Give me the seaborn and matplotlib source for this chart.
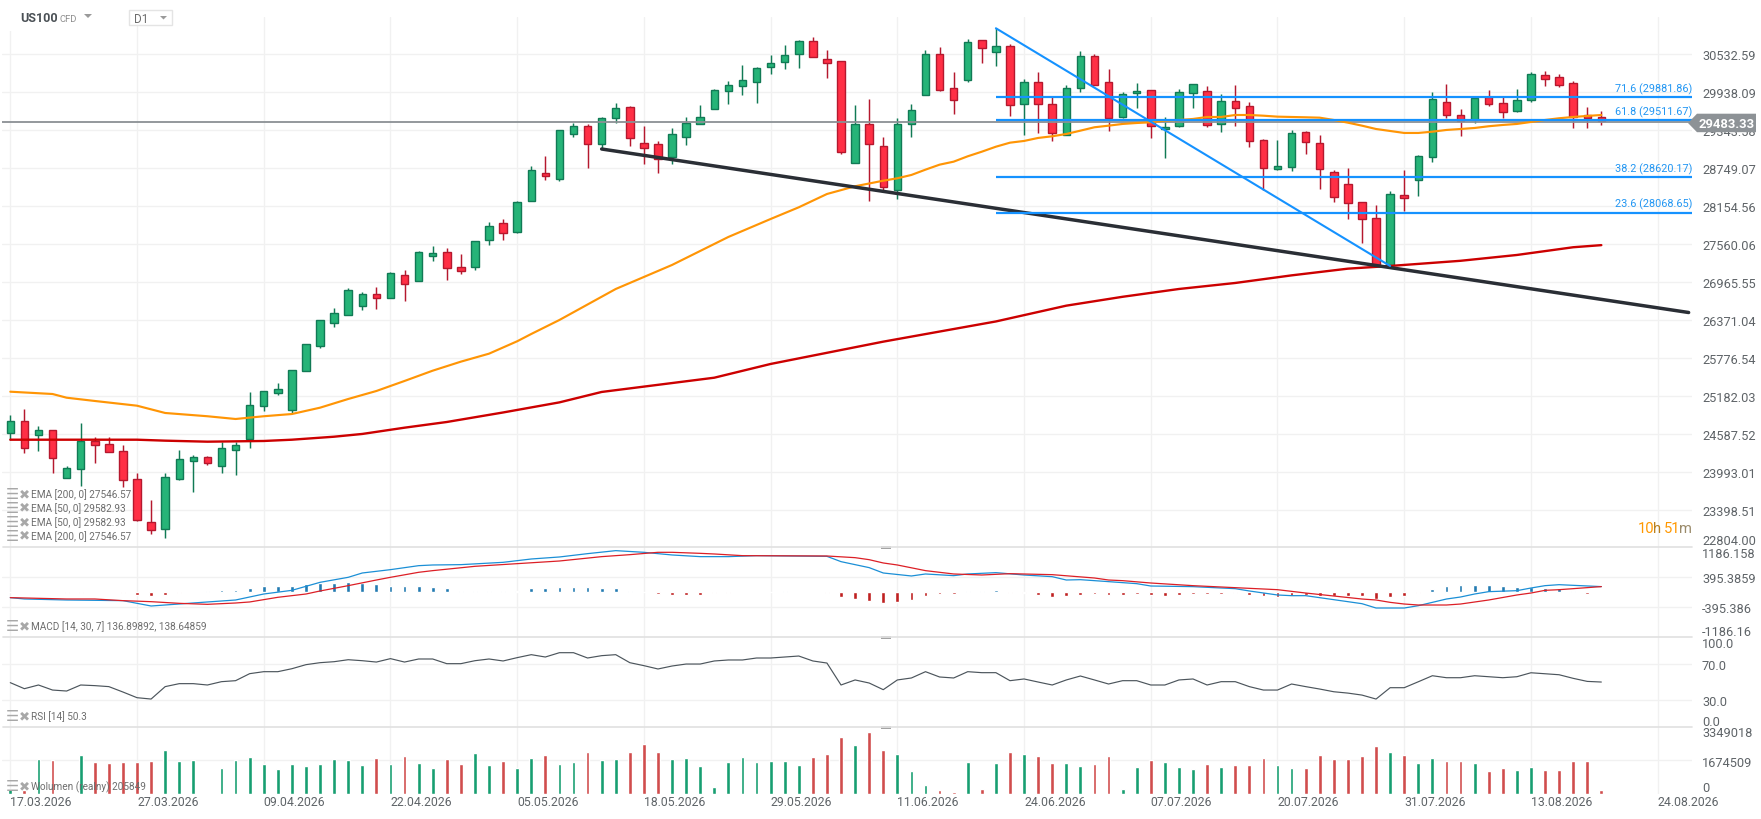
import pandas as pd
import seaborn as sns
import matplotlib.pyplot as plt
from matplotlib.lines import Line2D
from matplotlib.patches import Rectangle, Polygon

# daily candles, one entry per bar
opens = [24613, 24791, 24582, 24650, 23900, 24040, 24488, 24431, 24322, 23884,
         23211, 23111, 23884, 24175, 24228, 24087, 24338, 24510, 25023, 25229,
         24973, 25574, 25974, 26334, 26450, 26590, 26778, 26716, 27075, 26982,
         27382, 27435, 27201, 27201, 27623, 27889, 27748, 28233, 28671, 28577,
         29281, 29407, 29125, 29532, 29704, 29141, 29125, 28922, 29234, 29438,
         29673, 29954, 30032, 30095, 30330, 30408, 30533, 30736, 30455, 30423,
         28828, 29438, 29094, 28405, 29438, 29892, 30533, 30001, 30126, 30752,
         30564, 30658, 29751, 30095, 29751, 29266, 30001, 30502, 30095, 29547,
         29923, 29970, 29360, 29407, 29923, 29954, 29438, 29798, 29719, 29188,
         28734, 28765, 29313, 29141, 28687, 28499, 28218, 27972, 27232, 28327,
         28562, 28922, 29782, 29579, 29500, 29860, 29766, 29641, 29813, 30204,
         30178, 30079, 29583, 29552]
closes = [24791, 24369, 24650, 24212, 24056, 24488, 24416, 24306, 23868, 23252,
          23095, 23915, 24197, 24228, 24134, 24369, 24416, 25042, 25261, 25292,
          25589, 25996, 26371, 26481, 26841, 26778, 26716, 27107, 26935, 27435,
          27420, 27185, 27138, 27607, 27842, 27733, 28218, 28718, 28624, 29344,
          29407, 29125, 29532, 29688, 29219, 29062, 28890, 29281, 29453, 29547,
          29970, 30048, 30126, 30314, 30392, 30517, 30736, 30486, 30392, 29000,
          29438, 29125, 28452, 29438, 29657, 30533, 29970, 29813, 30721, 30627,
          30658, 29735, 30095, 29751, 29297, 30001, 30502, 30048, 29532, 29907,
          29954, 29407, 29391, 29938, 30064, 29422, 29798, 29688, 29172, 28749,
          28781, 29297, 29156, 28734, 28296, 28202, 27952, 27232, 28343, 28280,
          28937, 29829, 29579, 29485, 29845, 29751, 29626, 29813, 30220, 30142,
          30060, 29552, 29536, 29483]
highs = [24890, 24984, 24713, 24650, 24092, 24765, 24541, 24541, 24416, 23978,
         23555, 23978, 24338, 24259, 24244, 24463, 24463, 25245, 25261, 25386,
         25589, 25996, 26371, 26559, 26872, 26809, 26888, 27122, 27154, 27451,
         27529, 27498, 27404, 27607, 27905, 27952, 28233, 28781, 28937, 29344,
         29453, 29438, 29547, 29766, 29719, 29407, 29172, 29375, 29547, 29735,
         29985, 30111, 30361, 30330, 30517, 30674, 30752, 30799, 30596, 30423,
         29735, 29829, 29234, 29532, 29751, 30596, 30642, 30251, 30768, 30752,
         30940, 30689, 30142, 30251, 29860, 30048, 30580, 30533, 30298, 29938,
         30079, 29970, 29547, 29985, 30064, 30032, 29907, 30048, 29782, 29203,
         29188, 29344, 29328, 29266, 28718, 28749, 28218, 28171, 28390, 28718,
         28953, 29938, 30064, 29673, 29845, 29970, 29860, 29985, 30251, 30267,
         30225, 30115, 29708, 29640]
lows = [24503, 24300, 24331, 23987, 23900, 23784, 24144, 24306, 23768, 23236,
        23028, 22965, 23878, 23677, 24112, 23987, 23956, 24369, 24957, 25198,
        24921, 25574, 25943, 26271, 26450, 26537, 26553, 26716, 26678, 26982,
        27304, 27007, 27100, 27163, 27545, 27623, 27733, 28233, 28562, 28546,
        29234, 28749, 29062, 29453, 29094, 28812, 28671, 28812, 29109, 29438,
        29673, 29751, 29892, 29766, 30220, 30298, 30314, 30486, 30158, 28978,
        28828, 28233, 28405, 28264, 29234, 29892, 29954, 29604, 30095, 30392,
        30345, 29572, 29266, 29297, 29172, 29266, 29938, 30048, 29328, 29532,
        29688, 29219, 28906, 29391, 29688, 29391, 29313, 29407, 29078, 28415,
        28718, 28703, 28968, 28430, 28218, 27952, 27584, 27221, 27221, 28086,
        28311, 28843, 29532, 29250, 29453, 29719, 29532, 29626, 29782, 30032,
        30021, 29380, 29380, 29427]

# moving averages, read at the bars listed
ema50_bars = [0, 3, 4, 6, 9, 11, 14, 16, 18, 20, 22, 24, 26, 28, 30, 32, 34, 36, 37, 39, 43, 47, 51, 54, 56, 58, 60, 62,
              63, 64, 65, 66, 67, 68, 69, 70, 71, 72, 73, 74, 75, 76, 77, 78, 79, 80, 81, 82, 83, 84, 85, 86, 87, 88,
              89, 90, 91, 92, 93, 94, 95, 96, 97, 98, 99, 100, 101, 102, 103, 104, 105, 106, 107, 108, 109, 110, 111,
              112, 113]
ema50 = [25254, 25218, 25160, 25109, 25035, 24921, 24870, 24827, 24870, 24905, 25004, 25140, 25265, 25422, 25583,
         25724, 25849, 26043, 26157, 26376, 26861, 27237, 27675, 27956, 28139, 28347, 28468, 28555,
         28593, 28645, 28728, 28806, 28853, 28937, 29009, 29087, 29150, 29177, 29224, 29250, 29286, 29338, 29391,
         29416, 29443, 29458, 29469, 29494, 29505, 29521, 29552, 29552, 29583, 29583,
         29572, 29557, 29552, 29547, 29541, 29505, 29463, 29416, 29364, 29333, 29302, 29302, 29322, 29349, 29364,
         29380, 29407, 29427, 29443, 29474, 29505, 29532, 29552, 29568, 29583]
ema200_bars = [0, 9, 11, 14, 18, 20, 23, 25, 28, 31, 35, 39, 42, 50, 54, 62, 70, 75, 79, 83, 87, 91, 95, 98, 103, 107,
               111, 113]
ema200 = [24503, 24503, 24488, 24472, 24483, 24503, 24550, 24593, 24691, 24780, 24929, 25087, 25250, 25473, 25688,
          26037, 26353, 26600, 26739, 26861, 26955, 27074, 27179, 27221, 27302, 27393, 27514, 27547]

# fibonacci levels as drawn, and their labels
fib_levels = [29867, 29497, 28606, 28054]
fib_labels = ['71.6 (29881.86)', '61.8 (29511.67)', '38.2 (28620.17)', '23.6 (28068.65)']
last_price_level = 29469
support_bars = [42, 119.2]
support_prices = [29051, 26493]

# MACD lines
macd_bars = [0, 1, 4, 8, 10, 12, 14, 16, 18, 20, 22, 24, 25, 27, 29, 30, 32, 35, 37, 39, 41, 43, 45, 47, 49, 51, 53,
             58, 59, 61, 62, 64, 65, 67, 68, 70, 72, 74, 75, 76, 78, 80, 81, 84, 87, 88, 90, 91, 92, 95, 96, 97, 99,
             100, 101, 102, 103, 104, 105, 107, 108, 109, 110, 113]
macd_line = [-141, -176, -203, -220, -361, -308, -255, -203, -45, 52, 263, 395, 509, 597, 702, 720, 729, 790, 878,
             931, 1019, 1098, 1054, 984, 940, 940, 966, 948, 808, 650, 509, 430, 483, 439, 483, 518, 456, 412, 324,
             333, 281, 228, 166, 149, 96, 35, -71, -89, -89, -247, -300, -414, -414, -353, -265, -177, -124, -45,
             17, 43, 113, 175, 201, 150]
signal_bars = [0, 4, 6, 8, 10, 12, 14, 16, 17, 19, 21, 22, 24, 26, 27, 29, 30, 33, 36, 39, 42, 44, 46, 47, 49, 50, 52,
               58, 60, 61, 62, 63, 65, 67, 69, 71, 74, 77, 78, 79, 81, 84, 87, 89, 90, 92, 94, 96, 97, 98, 99, 100,
               102, 103, 105, 107, 108, 109, 110, 113]
signal_line = [-141, -176, -176, -220, -247, -291, -317, -282, -255, -132, -45, 35, 175, 324, 395, 527, 571, 685, 755,
               825, 940, 992, 1054, 1054, 1027, 1010, 966, 957, 913, 860, 773, 720, 571, 483, 456, 491, 465, 377,
               324, 307, 245, 175, 122, 87, 69, -19, -98, -177, -203, -265, -309, -335, -335, -309, -203, -71, -19,
               52, 69, 150]
macd_hist = [0, 0, 0, 0, -26, -26, 0, 0, -26, -70, -105, -70, -26, 0, 26, 70, 70, 123, 158, 176, 176, 211, 246, 246,
             264, 246, 211, 176, 158, 158, 141, 105, 44, 44, 44, 44, 44, 114, 114, 132, 132, 132, 105, 105, 44, 0,
             -53, -79, -79, -79, -26, -26, 0, 0, 0, 26, 0, 0, -26, -132, -185, -237, -290, -264, -211, -105, -53,
             -53, 26, 26, 53, -26, -26, -79, -132, -105, -79, -53, -79, -79, -53, -79, -105, -79, -53, -53, -53,
             -26, -79, -105, -132, -105, -79, -105, -105, -105, -105, -185, -132, -105, -26, 79, 158, 185, 185, 185,
             158, 132, 132, 105, 105, 44, -44, 0]

rsi = [49.6, 42.9, 47.0, 41.4, 40.3, 47.0, 46.3, 45.2, 39.2, 32.9, 31.4, 45.2, 48.5, 48.5, 47.0, 50.7, 51.8, 59.6,
       61.8, 61.8, 65.1, 69.6, 71.8, 72.9, 75.1, 74.0, 72.5, 76.3, 72.5, 75.9,
       75.9, 70.7, 70.7, 74.0, 75.9, 73.7, 77.4, 80.7, 78.1, 82.9, 82.9, 77.0, 79.6, 80.7, 71.8, 68.5, 64.8, 68.1,
       70.3, 70.3, 73.7, 74.8, 74.8, 77.0, 77.0, 78.1, 79.2, 73.7, 71.4, 47.0, 52.6, 49.2,
       41.8, 52.6, 54.8, 61.8, 55.9, 54.8, 61.8, 60.7, 60.7, 51.8, 53.7, 50.3, 47.0, 52.6, 57.0, 52.6, 48.1, 51.8,
       51.8, 47.0, 47.0, 52.6, 53.7, 47.0, 50.7, 50.7, 45.2, 41.4, 41.4, 48.1, 45.2,
       42.5, 39.5, 38.0, 35.8, 31.4, 44.0, 44.0, 50.6, 57.3, 55.1, 55.1, 57.3, 56.2, 55.1, 56.2, 60.6, 59.5, 58.4,
       54.4, 51.0, 50.3]

volume_k = [250, 200, 1750, 1700, 50, 1949, 1600, 1550, 1600, 1600, 1650, 2199, 1650, 1700, 0, 1300, 1700, 1849, 1500,
            1250, 1500, 1400, 1500, 1750, 1700, 1450, 1799, 1500, 1899, 1550, 1300, 1750, 1500, 2049, 1450, 1650,
            1300, 1799, 1949, 1500, 1600, 2099, 1700, 1750, 2099, 2499, 2099, 1750, 1799, 1400, 350, 1600, 1849,
            1600, 1650, 1650, 1450, 1849, 1999, 2849, 2449, 3082, 2199, 1999, 1150, 450, 200, 100, 1600, 250, 1550,
            2099, 1999, 1899, 1550, 1550, 1400, 1500, 1899, 250, 1350, 1700, 1600, 1350, 1250, 1500, 1350, 1450,
            1450, 1799, 1450, 1300, 1300, 1949, 1750, 1750, 1899, 2399, 2099, 1949, 1550, 1799, 1650, 1650, 1550,
            1150, 1300, 1200, 1350, 1200, 1200, 1650, 1650, 200]

price_ticks = [30532.59, 29938.09, 29343.58, 28749.07, 28154.56, 27560.06, 26965.55, 26371.04, 25776.54, 25182.03,
               24587.52, 23993.01, 23398.51]
date_labels = ['17.03.2026', '27.03.2026', '09.04.2026', '22.04.2026', '05.05.2026', '18.05.2026', '29.05.2026',
               '11.06.2026', '24.06.2026', '07.07.2026', '20.07.2026', '31.07.2026', '13.08.2026', '24.08.2026']
legend_emas = ['EMA [200, 0] 27546.57', 'EMA [50, 0] 29582.93', 'EMA [50, 0] 29582.93', 'EMA [200, 0] 27546.57']

W, H = 1761, 820
LEFT, RIGHT = 2, 1692
BAR_STEP = 14.08
GRID_COLOR = '#f1f1f1'
TEXT_COLOR = '#5f6468'
GREEN, GREEN_EDGE = '#26b478', '#117a55'
RED, RED_EDGE = '#ff2f45', '#b5182e'
BLUE = '#1592ff'


def fx(px):
    return px / W


def fy(py):
    return 1 - py / H


def add_panel(fig, top, bottom):
    ax = fig.add_axes([fx(LEFT), fy(bottom), (RIGHT - LEFT) / W, (bottom - top) / H])
    ax.patch.set_alpha(0)
    sns.despine(ax=ax, left=True, bottom=True, right=True, top=True)
    ax.yaxis.tick_right()
    ax.tick_params(axis='both', length=0, labelsize=9.2, labelcolor=TEXT_COLOR, pad=7.2)
    ax.tick_params(axis='x', labelbottom=False)
    ax.grid(True, color=GRID_COLOR, linewidth=0.95)
    ax.set_axisbelow(True)
    return ax


def finish_panel(ax, xlim, ylim, yticks, ylabels=None):
    ax.set_xlim(xlim)
    ax.set_ylim(ylim)
    ax.set_xticks(range(0, 118, 9))
    ax.set_yticks(yticks)
    if ylabels is not None:
        ax.set_yticklabels(ylabels)
    ax.set_xlabel('')
    ax.set_ylabel('')


def draw_candles(ax):
    for i in range(len(opens)):
        up = closes[i] >= opens[i]
        fill, edge = (GREEN, GREEN_EDGE) if up else (RED, RED_EDGE)
        ax.vlines(i, lows[i], highs[i], color=edge, linewidth=1.05, zorder=3)
        bottom = min(opens[i], closes[i])
        ax.bar(i, abs(closes[i] - opens[i]), bottom=bottom, width=0.53, color=fill, edgecolor=edge,
               linewidth=1.0, zorder=4)


def side_label(fig, py, text):
    fig.text(fx(1702), fy(py), text, fontsize=9.2, color=TEXT_COLOR, ha='left', va='center')


def legend_row(fig, py, text):
    fig.text(fx(5.5), fy(py), '☰', fontsize=10.5, color='#a8a8a8', ha='left', va='center', family=['DejaVu Sans'])
    fig.text(fx(18.5), fy(py), '✖', fontsize=9.5, color='#a8a8a8', ha='left', va='center', family=['DejaVu Sans'])
    fig.text(fx(31), fy(py), text, fontsize=7.2, color='#6d6d6d', ha='left', va='center', zorder=10)


def main():
    sns.set_theme(style='white')
    plt.rcParams['font.family'] = ['Roboto', 'DejaVu Sans']

    fig = plt.figure(figsize=(W / 100, H / 100), dpi=100, facecolor='white')
    xlim = ((LEFT - 10.3) / BAR_STEP, (RIGHT - 10.3) / BAR_STEP)
    bars = list(range(len(opens)))

    # price panel
    ax = add_panel(fig, 18, 548.3)
    step = 594.507 / 38
    ylim_price = (30532.59 - 493 * step, 30532.59 + 37.3 * step)
    draw_candles(ax)
    sns.lineplot(x=ema50_bars, y=ema50, color='#ff9505', linewidth=1.55, ax=ax, legend=False, zorder=5)
    sns.lineplot(x=ema200_bars, y=ema200, color='#cc0000', linewidth=1.7, ax=ax, legend=False, zorder=5)
    ax.axhline(last_price_level, color='#8b9094', linewidth=1.3, zorder=4)
    sns.lineplot(x=support_bars, y=support_prices, color='#2a2e35', linewidth=2.5, ax=ax, legend=False, zorder=6)
    sns.lineplot(x=[70, 98], y=[highs[70], lows[98]], color=BLUE, linewidth=1.5, ax=ax, legend=False, zorder=6)
    for level, label in zip(fib_levels, fib_labels):
        ax.plot([70, xlim[1]], [level, level], color=BLUE, linewidth=1.6, zorder=6, solid_capstyle='butt')
        ax.annotate(label, xy=(xlim[1], level), xytext=(0.5, 6.5), textcoords='offset points', ha='right',
                    va='center', fontsize=7.8, color='#2196f3', zorder=7)
    finish_panel(ax, xlim, ylim_price, price_ticks, [f'{t:.2f}' for t in price_ticks])
    side_label(fig, 541.5, '22804.00')

    # MACD panel
    ax = add_panel(fig, 548.3, 638.3)
    hist = pd.DataFrame({'bar': bars, 'value': macd_hist})
    hist['kind'] = ['up' if v >= 0 else 'down' for v in macd_hist]
    sns.barplot(data=hist, x='bar', y='value', hue='kind', palette={'up': '#0a7fc9', 'down': '#d90606'},
                native_scale=True, dodge=False, width=0.27, legend=False, errorbar=None, ax=ax, zorder=3)
    sns.lineplot(x=macd_bars, y=macd_line, color='#1b8fd6', linewidth=0.9, ax=ax, legend=False, zorder=4)
    sns.lineplot(x=signal_bars, y=signal_line, color='#dc1f26', linewidth=0.9, ax=ax, legend=False, zorder=5)
    finish_panel(ax, xlim, (-1186.16, 1186.158), [395.3859, -395.386], ['395.3859', '-395.386'])
    side_label(fig, 555, '1186.158')
    side_label(fig, 632.5, '-1186.16')

    # RSI panel
    ax = add_panel(fig, 638.3, 728.3)
    sns.lineplot(x=bars, y=rsi, color='#4c555c', linewidth=0.85, ax=ax, legend=False, zorder=4)
    finish_panel(ax, xlim, (0, 100), [70, 30], ['70.0', '30.0'])
    side_label(fig, 645, '100.0')
    side_label(fig, 722.5, '0.0')

    # volume panel
    ax = add_panel(fig, 728.3, 795)
    vol = pd.DataFrame({'bar': bars, 'volume': [v * 1000 for v in volume_k]})
    vol['kind'] = ['up' if c >= o else 'down' for o, c in zip(opens, closes)]
    sns.barplot(data=vol, x='bar', y='volume', hue='kind', palette={'up': '#00b578', 'down': '#e63737'},
                native_scale=True, dodge=False, width=0.27, legend=False, errorbar=None, ax=ax, zorder=3)
    finish_panel(ax, xlim, (0, 3349018 * 66.7 / 67.5), [1674509], [''])
    ax.tick_params(axis='x', labelbottom=True, pad=0.8, labelsize=8.8)
    ax.set_xticks(range(0, 118, 9))
    ax.set_xticklabels(date_labels, ha='left')
    side_label(fig, 733.7, '3349018')
    side_label(fig, 764, '1674509')
    side_label(fig, 789, '0')

    # panel separators and their drag handles
    for py in [548.3, 638.3, 728.3]:
        fig.add_artist(Line2D([fx(3), fx(RIGHT)], [fy(py), fy(py)], color='#e2e2e2', linewidth=1.25))
        fig.add_artist(Rectangle((fx(881), fy(py + 1.2)), 10 / W, 2.4 / H, color='#a3a3a3', linewidth=0))

    # indicator legends
    for py, text in zip([494.7, 508.3, 522.7, 536.3], legend_emas):
        legend_row(fig, py, text)
    legend_row(fig, 626.7, 'MACD [14, 30, 7] 136.89892, 138.64859')
    legend_row(fig, 716.7, 'RSI [14] 50.3')
    legend_row(fig, 787, 'Wolumen (realny) 205849')

    # header
    fig.add_artist(Rectangle((fx(2), fy(32)), 120 / W, 24 / H, color='white', linewidth=0))
    fig.text(fx(20), fy(18), 'US100', fontsize=9, fontweight='bold', color='#4a5055', ha='left', va='center')
    fig.text(fx(60), fy(19.5), 'CFD', fontsize=6.8, color='#8d8d8d', ha='left', va='center')
    fig.add_artist(Polygon([(fx(84), fy(15)), (fx(92), fy(15)), (fx(88), fy(19))], color='#9a9a9a', linewidth=0))
    fig.add_artist(Rectangle((fx(128.5), fy(25.5)), 43 / W, 15 / H, facecolor='white', edgecolor='#e4e4e4', linewidth=1))
    fig.text(fx(134), fy(19.5), 'D1', fontsize=8.4, color='#6d6d6d', ha='left', va='center')
    fig.add_artist(Polygon([(fx(160), fy(17)), (fx(167), fy(17)), (fx(163.5), fy(20.5))], color='#9a9a9a', linewidth=0))

    # time to candle close
    fig.text(fx(1638), fy(529), '10', fontsize=10.6, color='#ff9800', ha='left', va='center')
    fig.text(fx(1653), fy(529), 'h', fontsize=10.6, color='#b9801f', ha='left', va='center')
    fig.text(fx(1664), fy(529), '51', fontsize=10.6, color='#ff9800', ha='left', va='center')
    fig.text(fx(1679), fy(529), 'm', fontsize=10.6, color='#9a8a6a', ha='left', va='center')

    # last price badge
    fig.add_artist(Polygon([(fx(1688), fy(124)), (fx(1697), fy(114.7)), (fx(1756), fy(114.7)), (fx(1756), fy(133.2)),
                            (fx(1697), fy(133.2))], color='#8d9296', linewidth=0, zorder=8))
    fig.text(fx(1727), fy(124), '29483.33', fontsize=9.4, fontweight='bold', color='white', ha='center',
             va='center', zorder=9)

    fig.savefig('out.png', dpi=100, facecolor='white')


if __name__ == "__main__":
    main()
